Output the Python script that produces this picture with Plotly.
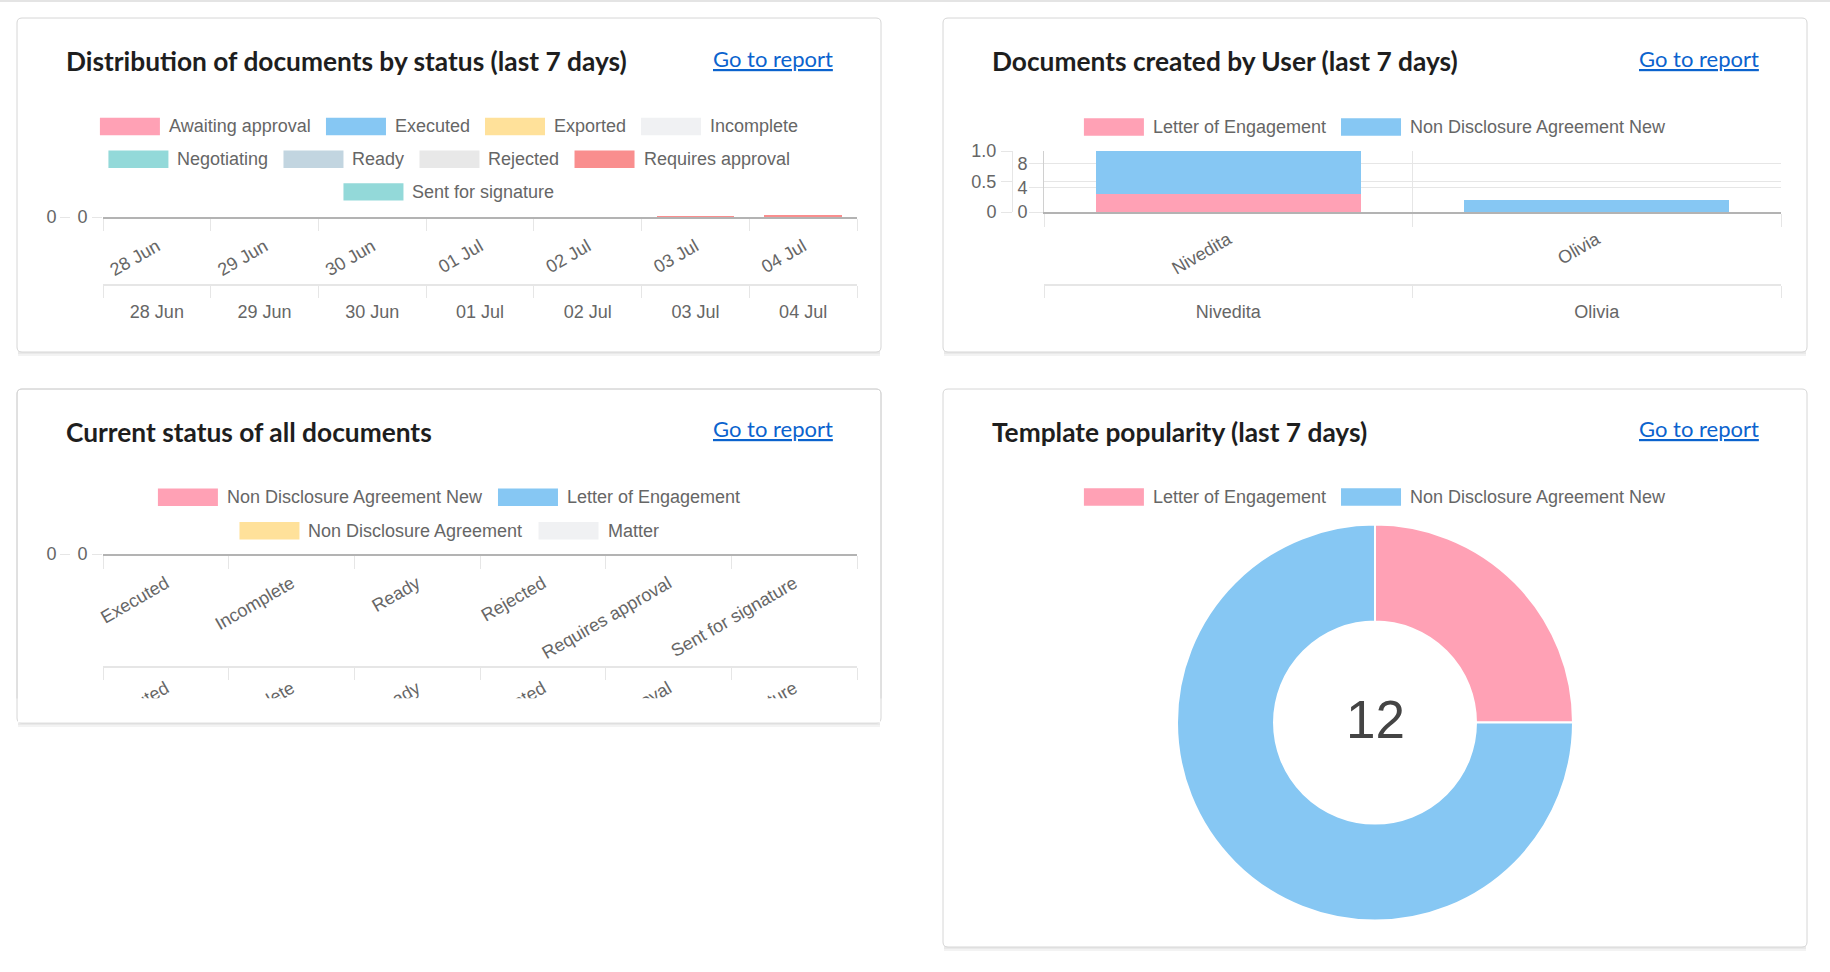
import plotly.graph_objects as go

W, H = 1830, 972

# ---------------- data ----------------
dates = ['28 Jun', '29 Jun', '30 Jun', '01 Jul', '02 Jul', '03 Jul', '04 Jul']
status_names = ['Awaiting approval', 'Executed', 'Exported', 'Incomplete', 'Negotiating',
                'Ready', 'Rejected', 'Requires approval', 'Sent for signature']
status_colors = ['#FFA1B5', '#86C7F3', '#FFE19A', '#F0F1F3', '#93D9D9',
                 '#C2D5E0', '#E8E8E8', '#F98E8E', '#93D9D9']
awaiting_approval = [0, 0, 0, 0, 0, 0, 0]
executed = [0, 0, 0, 0, 0, 0, 0]
exported = [0, 0, 0, 0, 0, 0, 0]
incomplete = [0, 0, 0, 0, 0, 0, 0]
negotiating = [0, 0, 0, 0, 0, 0, 0]
ready = [0, 0, 0, 0, 0, 0, 0]
rejected = [0, 0, 0, 0, 0, 0, 0]
requires_approval = [0, 0, 0, 0, 0, 4, 8]
sent_for_signature = [0, 0, 0, 0, 0, 0, 0]
status_series = [awaiting_approval, executed, exported, incomplete, negotiating,
                 ready, rejected, requires_approval, sent_for_signature]

users = ['Nivedita', 'Olivia']
user_series_names = ['Letter of Engagement', 'Non Disclosure Agreement New']
user_series_colors = ['#FFA1B5', '#86C7F3']
letter_of_engagement_by_user = [3, 0]
nda_new_by_user = [7, 2]

current_statuses = ['Executed', 'Incomplete', 'Ready', 'Rejected', 'Requires approval', 'Sent for signature']
current_series_names = ['Non Disclosure Agreement New', 'Letter of Engagement', 'Non Disclosure Agreement', 'Matter']
current_series_colors = ['#FFA1B5', '#86C7F3', '#FFE19A', '#F0F1F3']
cur_nda_new = [0, 0, 0, 0, 0, 0]
cur_letter = [0, 0, 0, 0, 0, 0]
cur_nda = [0, 0, 0, 0, 0, 0]
cur_matter = [0, 0, 0, 0, 0, 0]
current_series = [cur_nda_new, cur_letter, cur_nda, cur_matter]

templates = ['Letter of Engagement', 'Non Disclosure Agreement New']
template_colors = ['#FFA1B5', '#86C7F3']
template_counts = [3, 9]

titles = ['Distribution of documents by status (last 7 days)', 'Documents created by User (last 7 days)',
          'Current status of all documents', 'Template popularity (last 7 days)']
link_text = 'Go to report'

# ---------------- helpers ----------------
def X(p):
    return p / W


def Y(p):
    return 1 - p / H


FONT = 'Liberation Sans, Arial, sans-serif'
TITLE_FONT = 'Lato, Noto Sans, sans-serif'
TXT = '#666666'
GRID = '#e6e6e6'
AXIS = '#b3b3b3'

ARIAL = {' ': 278}
for ch, w in zip('abcdefghijklmnopqrstuvwxyz',
                 [556, 556, 500, 556, 556, 278, 556, 556, 222, 222, 500, 222, 833, 556, 556, 556, 556, 333, 500,
                  278, 556, 500, 722, 500, 500, 500]):
    ARIAL[ch] = w
for ch, w in zip('ABCDEFGHIJKLMNOPQRSTUVWXYZ',
                 [667, 667, 722, 722, 667, 611, 778, 722, 278, 500, 667, 556, 833, 722, 778, 667, 778, 722, 667,
                  611, 722, 667, 944, 667, 667, 611]):
    ARIAL[ch] = w


def text_w(s, size=18):
    return sum(ARIAL.get(c, 556) for c in s) * size / 1000.0


shapes = []
annotations = []

# top page line
shapes.append(dict(type='rect', xref='paper', yref='paper', x0=0, x1=1, y0=Y(2), y1=Y(0),
                   fillcolor='#e4e4e4', line=dict(width=0), layer='below'))


def card_path(x0, y0, x1, y1, r=5):
    rx, ry = r / W, r / H
    a, b, c, d = X(x0), X(x1), Y(y0), Y(y1)
    return (f"M {a + rx},{c} L {b - rx},{c} Q {b},{c} {b},{c - ry} L {b},{d + ry} Q {b},{d} {b - rx},{d} "
            f"L {a + rx},{d} Q {a},{d} {a},{d + ry} L {a},{c - ry} Q {a},{c} {a + rx},{c} Z")


def card_shadow(x0, y0, x1, y1, layer='below'):
    for off, col in ((4, '#f3f3f3'), (2, '#e9e9e9')):
        shapes.append(dict(type='rect', xref='paper', yref='paper', x0=X(x0 + 1), x1=X(x1 - 1),
                           y0=Y(y1 + off), y1=Y(y0 + off), fillcolor=col, line=dict(width=0), layer=layer))


def card(x0, y0, x1, y1):
    card_shadow(x0, y0, x1, y1)
    shapes.append(dict(type='path', xref='paper', yref='paper', path=card_path(x0, y0, x1, y1),
                       fillcolor='white', line=dict(color='#d6d6d6', width=1), layer='below'))


def header(x0, y0, x1, title):
    annotations.append(dict(text=title, xref='paper', yref='paper', x=X(x0 + 49), y=Y(y0 + 43),
                            xanchor='left', yanchor='middle', showarrow=False, borderpad=0, borderwidth=0,
                            font=dict(family=TITLE_FONT, size=26.3, color='#1e1e1e', weight='bold')))
    annotations.append(dict(text='<u>' + link_text + '</u>', xref='paper', yref='paper', x=X(x1 - 48),
                            y=Y(y0 + 40), xanchor='right', yanchor='middle', showarrow=False, borderpad=0,
                            borderwidth=0, font=dict(family=TITLE_FONT, size=22, color='#0b63ce')))


def legend(names, colors, cx, y_first, max_w, row_gap=33.0):
    inner, outer = 9.0, 15.0
    items = [(n, c, 60 + inner + text_w(n)) for n, c in zip(names, colors)]
    rows, cur, cur_w = [], [], 0
    for it in items:
        add = it[2] + (outer if cur else 0)
        if cur and cur_w + add > max_w:
            rows.append(cur)
            cur, cur_w = [], 0
            add = it[2]
        cur.append(it)
        cur_w += add
    if cur:
        rows.append(cur)
    for ri, row in enumerate(rows):
        total = sum(it[2] for it in row) + outer * (len(row) - 1)
        x = cx - total / 2
        y = y_first + ri * row_gap
        for n, c, w in row:
            shapes.append(dict(type='rect', xref='paper', yref='paper', x0=X(x), x1=X(x + 60),
                               y0=Y(y + 8.7), y1=Y(y - 8.7), fillcolor=c, line=dict(width=0), layer='below'))
            annotations.append(dict(text=n, xref='paper', yref='paper', x=X(x + 60 + inner), y=Y(y),
                                    xanchor='left', yanchor='middle', showarrow=False, borderpad=0,
                                    borderwidth=0, font=dict(family=FONT, size=18, color=TXT)))
            x += w + outer


cards = [(17, 18, 881, 352), (943, 18, 1807, 352), (17, 389, 881, 723), (943, 389, 1807, 947)]
for (x0, y0, x1, y1), t in zip(cards, titles):
    card(x0, y0, x1, y1)
    header(x0, y0, x1, t)

legend(status_names, status_colors, 449, 126.5, 730, 32.7)
legend(user_series_names, user_series_colors, 1375, 127, 760)
legend(current_series_names, current_series_colors, 449, 497.3, 730, 33.4)
legend(templates, template_colors, 1375, 497, 760)

# clip the lower rotated labels of chart 3 (as the chart canvas does), then redraw the card edge on top
c3 = cards[2]
shapes.append(dict(type='rect', xref='paper', yref='paper', x0=X(c3[0] - 6), x1=X(c3[2] + 6),
                   y0=Y(c3[3] + 80), y1=Y(698.5), fillcolor='white', line=dict(width=0), layer='above'))
for off, col in ((4, '#f3f3f3'), (2, '#e9e9e9')):
    shapes.append(dict(type='rect', xref='paper', yref='paper', x0=X(c3[0] + 1), x1=X(c3[2] - 1),
                       y0=Y(c3[3] + off), y1=Y(c3[3] - 4), fillcolor=col, line=dict(width=0), layer='above'))
shapes.append(dict(type='path', xref='paper', yref='paper', path=card_path(*c3),
                   fillcolor='rgba(0,0,0,0)', line=dict(color='#d6d6d6', width=1), layer='above'))
shapes.append(dict(type='rect', xref='paper', yref='paper', x0=X(c3[0] + 1), x1=X(c3[2] - 1),
                   y0=Y(c3[3] - 0.5), y1=Y(698.5), fillcolor='white', line=dict(width=0), layer='above'))

annotations.append(dict(text=str(sum(template_counts)), xref='paper', yref='paper', x=X(1375), y=Y(719),
                        xanchor='center', yanchor='middle', showarrow=False, borderpad=0, borderwidth=0,
                        font=dict(family=FONT, size=53, color='#444444')))

# ---------------- traces ----------------
fig = go.Figure()
for name, col, vals in zip(status_names, status_colors, status_series):
    fig.add_trace(go.Bar(x=dates, y=vals, name=name, marker=dict(color=col, line=dict(width=0)),
                         xaxis='x', yaxis='y', showlegend=False, hoverinfo='skip'))
for name, col, vals in zip(user_series_names, user_series_colors,
                           [letter_of_engagement_by_user, nda_new_by_user]):
    fig.add_trace(go.Bar(x=users, y=vals, name=name, marker=dict(color=col, line=dict(width=0)),
                         xaxis='x3', yaxis='y3', showlegend=False, hoverinfo='skip'))
for name, col, vals in zip(current_series_names, current_series_colors, current_series):
    fig.add_trace(go.Bar(x=current_statuses, y=vals, name=name, marker=dict(color=col, line=dict(width=0)),
                         xaxis='x5', yaxis='y5', showlegend=False, hoverinfo='skip'))

# empty helper traces so that the duplicated (secondary) axes get drawn
for xa, ya, cats in (('x2', 'y', dates), ('x', 'y2', dates), ('x4', 'y3', users), ('x3', 'y4', users),
                     ('x6', 'y5', current_statuses), ('x5', 'y6', current_statuses)):
    fig.add_trace(go.Scatter(x=cats, y=[None] * len(cats), mode='markers', xaxis=xa, yaxis=ya,
                             marker=dict(opacity=0), showlegend=False, hoverinfo='skip'))

fig.add_trace(go.Pie(labels=templates, values=template_counts, sort=False, direction='clockwise', rotation=0,
                     hole=0.51, textinfo='none', hoverinfo='skip', showlegend=False,
                     marker=dict(colors=template_colors, line=dict(color='white', width=2)),
                     domain=dict(x=[X(1177), X(1573)], y=[Y(920.6), Y(524.6)])))

tf = dict(family=FONT, size=18, color=TXT)


def cat_axis(domain, anchor, cats, angle, ticklen, line, grid=False, standoff=2, **kw):
    d = dict(domain=domain, anchor=anchor, type='category', categoryorder='array', categoryarray=cats,
             range=[-0.5, len(cats) - 0.5], tickson='boundaries', ticks='outside', ticklen=ticklen,
             tickwidth=1, tickcolor=GRID, tickangle=angle, showgrid=grid, gridcolor=GRID, zeroline=False,
             tickfont=tf, fixedrange=True, ticklabelstandoff=standoff)
    if line:
        d.update(showline=True, linecolor=line[0], linewidth=line[1])
    else:
        d.update(showline=False)
    if domain is None:
        d.pop('domain')
    d.update(kw)
    return d


def val_axis(domain=None, anchor=None, rng=(0, 1), tickvals=(0,), ticktext=None, ticklen=10, grid=False,
             line=None, standoff=1, **kw):
    d = dict(range=list(rng), tickmode='array', tickvals=list(tickvals), ticks='outside', ticklen=ticklen,
             tickwidth=1, tickcolor=GRID, showgrid=grid, gridcolor=GRID, zeroline=False, tickfont=tf,
             ticklabelstandoff=standoff, fixedrange=True)
    if ticktext is not None:
        d['ticktext'] = list(ticktext)
    if domain is not None:
        d['domain'] = domain
    if anchor is not None:
        d['anchor'] = anchor
    if line:
        d.update(showline=True, linecolor=line, linewidth=1)
    else:
        d['showline'] = False
    d.update(kw)
    return d


layout = dict(
    width=W, height=H, autosize=False, margin=dict(l=0, r=0, t=0, b=0, pad=0),
    paper_bgcolor='white', plot_bgcolor='rgba(0,0,0,0)', template='none',
    barmode='stack', bargap=0.28, showlegend=False, font=dict(family=FONT, color=TXT),
    shapes=shapes, annotations=annotations,
    # chart 1
    xaxis=cat_axis([X(103), X(857)], 'y', dates, -30, 12, (AXIS, 2), standoff=10),
    yaxis=val_axis([Y(217), Y(213)], 'x', (0, 16), (0,), None, 10, standoff=1),
    yaxis2=val_axis(None, 'free', (0, 1), (0,), None, 10, standoff=0, overlaying='y', position=X(70),
                    side='left'),
    xaxis2=cat_axis(None, 'free', dates, 0, 12, (GRID, 2), standoff=10, overlaying='x', position=Y(285),
                    side='bottom'),
    # chart 2
    xaxis3=cat_axis([X(1044), X(1781)], 'y3', users, -30, 13, (AXIS, 2), grid=True, standoff=8),
    yaxis3=val_axis([Y(212), Y(151)], 'x3', (0, 10), (0, 4, 8), None, 14, grid=True, line='#d0d0d0',
                    standoff=-2),
    yaxis4=val_axis(None, 'free', (0, 1), (0, 0.5, 1), ('0', '0.5', '1.0'), 11, grid=True, line=GRID,
                    standoff=1, overlaying='y3', position=X(1012), side='left'),
    xaxis4=cat_axis(None, 'free', users, 0, 12, (GRID, 2), standoff=10, overlaying='x3', position=Y(285),
                    side='bottom'),
    # chart 3
    xaxis5=cat_axis([X(103), X(857)], 'y5', current_statuses, -30, 13, (AXIS, 2), standoff=10),
    yaxis5=val_axis([Y(554), Y(551)], 'x5', (0, 1), (0,), None, 10, standoff=1),
    yaxis6=val_axis(None, 'free', (0, 1), (0,), None, 10, standoff=0, overlaying='y5', position=X(70),
                    side='left'),
    xaxis6=cat_axis(None, 'free', current_statuses, -30, 12, (GRID, 2), overlaying='x5', position=Y(667),
                    side='bottom', standoff=3),
)
fig.update_layout(**layout)

fig.write_html('out.html', config={'displayModeBar': False, 'staticPlot': True},
               post_script="document.body.style.margin='0';document.body.style.overflow='hidden';")
